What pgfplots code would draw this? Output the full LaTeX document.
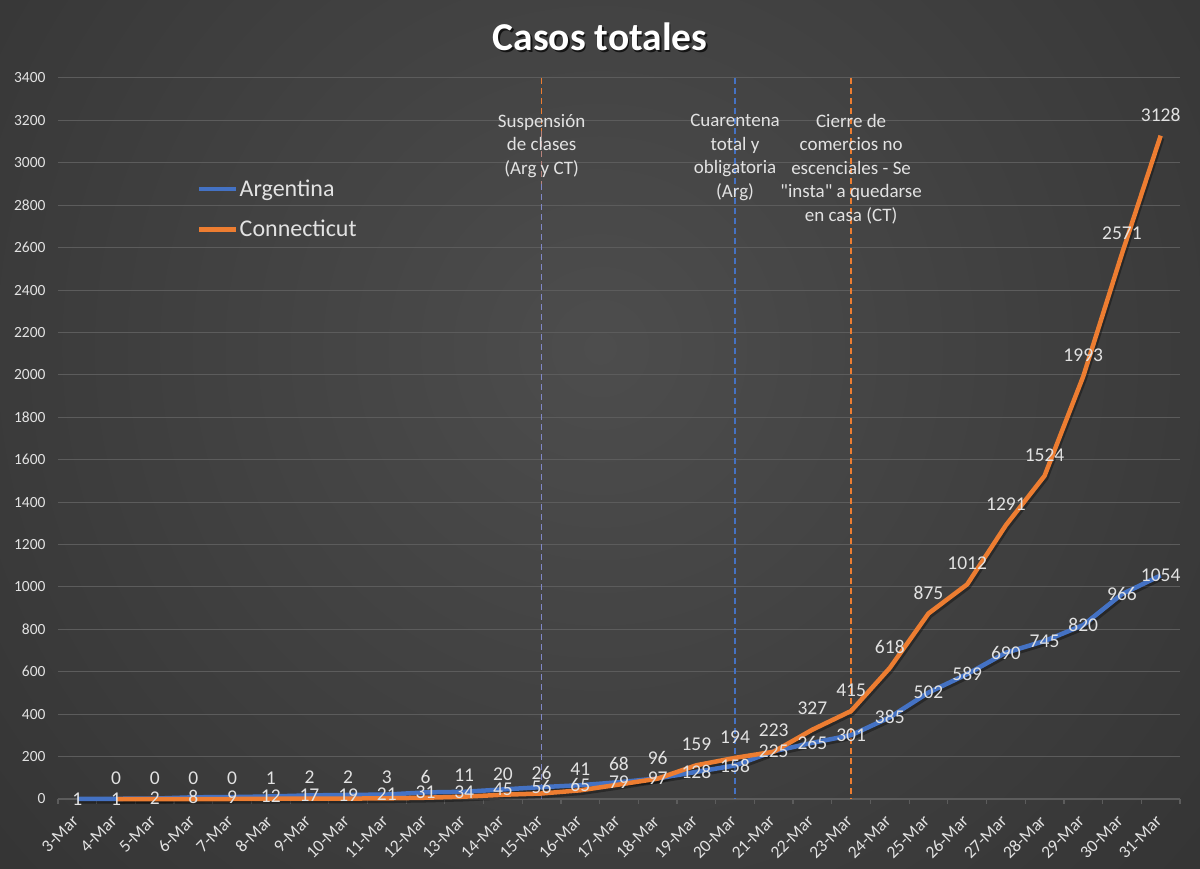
\documentclass[border=0pt]{standalone}
\usepackage{fontspec}
\setmainfont{Carlito}
\newfontfamily\qfont{Carlito}[Ligatures=TeXOff]
\usepackage{pgfplots}
\pgfplotsset{compat=1.18}
\definecolor{argblue}{HTML}{4472C4}
\definecolor{ctorange}{HTML}{ED7D31}
\definecolor{lav}{HTML}{8088C8}
\definecolor{gridc}{HTML}{5C5C5C}
\definecolor{txt}{HTML}{E2E2E2}
\definecolor{bgin}{HTML}{4D4D4D}
\definecolor{bgout}{HTML}{1F1F1F}
\begin{document}
\begin{tikzpicture}[x=1pt,y=1pt]
\begin{scope}
\clip (0,0) rectangle (1200,868);
\shade[inner color=bgin, outer color=bgout] (600,520) circle (1500);
\end{scope}
\node[text=black, opacity=0.7, font=\bfseries\fontsize{39.5}{42}\selectfont] at (601.5,829.5) {Casos totales};
\node[text=white, font=\bfseries\fontsize{39.5}{42}\selectfont] at (600,831) {Casos totales};
\begin{axis}[
  at={(58pt,69pt)}, anchor=south west,
  scale only axis, width=1122pt, height=721pt,
  xmin=-0.5, xmax=28.5, ymin=0, ymax=3400,
  enlargelimits=false, clip=false,
  axis x line*=bottom, axis y line*=left,
  y axis line style={draw=none},
  x axis line style={gridc, line width=1.2pt},
  /pgf/number format/.cd, 1000 sep={}, assume math mode=true, /pgfplots/.cd,
  ytick={0,200,...,3400},
  ymajorgrids, major grid style={gridc, line width=1pt},
  yticklabel style={font=\fontsize{15.5}{18}\selectfont, text=txt, xshift=-9pt},
  xtick={0,...,28},
  xticklabels={3-Mar,4-Mar,5-Mar,6-Mar,7-Mar,8-Mar,9-Mar,10-Mar,11-Mar,12-Mar,13-Mar,14-Mar,15-Mar,16-Mar,17-Mar,18-Mar,19-Mar,20-Mar,21-Mar,22-Mar,23-Mar,24-Mar,25-Mar,26-Mar,27-Mar,28-Mar,29-Mar,30-Mar,31-Mar},
  xticklabel style={font=\fontsize{17.5}{20}\selectfont, text=txt, xshift=-6pt, yshift=-15pt, rotate=45, anchor=north east, inner sep=0pt},
  minor xtick={-0.5,0.5,...,28.5},
  major tick length=0pt, minor tick length=5pt, tick align=outside,
  tick style={gridc, line width=1.2pt},
  legend style={at={(0.1239,0.860)}, anchor=north west, draw=none, fill=none,
    text=txt, font=\fontsize{24}{26}\selectfont, row sep=20pt, inner sep=0pt,
    nodes={inner sep=1pt}},
  legend cell align=left,
  legend image code/.code={\draw[#1] (0pt,0pt) -- (37pt,0pt);},
]
% event lines
\addplot[ctorange, line width=1.6pt, dash pattern=on 6pt off 4pt, forget plot] coordinates {(12,3400) (12,3150)};
\addplot[ctorange!50!lav, line width=1.6pt, dash pattern=on 6pt off 4pt, forget plot] coordinates {(12,3150) (12,2900)};
\addplot[lav, line width=1.6pt, dash pattern=on 6pt off 4pt, forget plot] coordinates {(12,2900) (12,0)};
\addplot[argblue, line width=1.6pt, dash pattern=on 6pt off 4pt, forget plot] coordinates {(17,3400) (17,0)};
\addplot[ctorange, line width=1.6pt, dash pattern=on 6pt off 4pt, forget plot] coordinates {(20,3400) (20,0)};
% shadows
\addplot[black, opacity=0.35, line width=4.5pt, line join=round, forget plot, xshift=1.5pt, yshift=-2.5pt] coordinates {(0,1)(1,1)(2,2)(3,8)(4,9)(5,12)(6,17)(7,19)(8,21)(9,31)(10,34)(11,45)(12,56)(13,65)(14,79)(15,97)(16,128)(17,158)(18,225)(19,265)(20,301)(21,385)(22,502)(23,589)(24,690)(25,745)(26,820)(27,966)(28,1054)};
\addplot[black, opacity=0.35, line width=4.5pt, line join=round, forget plot, xshift=1.5pt, yshift=-2.5pt] coordinates {(1,0)(2,0)(3,0)(4,0)(5,1)(6,2)(7,2)(8,3)(9,6)(10,11)(11,20)(12,26)(13,41)(14,68)(15,96)(16,159)(17,194)(18,223)(19,327)(20,415)(21,618)(22,875)(23,1012)(24,1291)(25,1524)(26,1993)(27,2571)(28,3128)};
% series lines
\addplot[argblue, line width=4.5pt, line join=round, forget plot] coordinates {(0,1)(1,1)(2,2)(3,8)(4,9)(5,12)(6,17)(7,19)(8,21)(9,31)(10,34)(11,45)(12,56)(13,65)(14,79)(15,97)(16,128)(17,158)(18,225)(19,265)(20,301)(21,385)(22,502)(23,589)(24,690)(25,745)(26,820)(27,966)(28,1054)};
\addplot[ctorange, line width=4.5pt, line join=round, forget plot] coordinates {(1,0)(2,0)(3,0)(4,0)(5,1)(6,2)(7,2)(8,3)(9,6)(10,11)(11,20)(12,26)(13,41)(14,68)(15,96)(16,159)(17,194)(18,223)(19,327)(20,415)(21,618)(22,875)(23,1012)(24,1291)(25,1524)(26,1993)(27,2571)(28,3128)};
% data labels
\addplot[draw=none, forget plot, nodes near coords, nodes near coords align=center,
  every node near coord/.append style={font=\fontsize{19.5}{21}\selectfont, text=txt, inner sep=0pt}]
  coordinates {(0,1)(1,1)(2,2)(3,8)(4,9)(5,12)(6,17)(7,19)(8,21)(9,31)(10,34)(11,45)(12,56)(13,65)(14,79)(15,97)(16,128)(17,158)(18,225)(19,265)(20,301)(21,385)(22,502)(23,589)(24,690)(25,745)(26,820)(27,966)(28,1054)};
\addplot[draw=none, forget plot, nodes near coords, nodes near coords align=center,
  every node near coord/.append style={font=\fontsize{19.5}{21}\selectfont, text=txt, inner sep=0pt, yshift=21pt}]
  coordinates {(1,0)(2,0)(3,0)(4,0)(5,1)(6,2)(7,2)(8,3)(9,6)(10,11)(11,20)(12,26)(13,41)(14,68)(15,96)(16,159)(17,194)(18,223)(19,327)(20,415)(21,618)(22,875)(23,1012)(24,1291)(25,1524)(26,1993)(27,2571)(28,3128)};
% annotations
\node[anchor=north, align=center, inner sep=0pt, text=txt, font=\fontsize{19}{23.5}\selectfont] at (axis cs:12,3230) {Suspensión\\de clases\\(Arg y CT)};
\node[anchor=north, align=center, inner sep=0pt, text=txt, font=\fontsize{19}{23.5}\selectfont] at (axis cs:17,3230) {Cuarentena\\total y\\obligatoria\\(Arg)};
\node[anchor=north, align=center, inner sep=0pt, text=txt, font=\fontsize{19}{23.5}\selectfont] at (axis cs:20,3230) {Cierre de\\comercios no\\escenciales - Se\\{\qfont"insta"} a quedarse\\en casa (CT)};
% legend
\addlegendimage{argblue, line width=4.5pt}
\addlegendentry{Argentina}
\addlegendimage{ctorange, line width=4.5pt}
\addlegendentry{Connecticut}
\end{axis}
\pgfresetboundingbox
\useasboundingbox (0,0) rectangle (1200,868);
\end{tikzpicture}
\end{document}
